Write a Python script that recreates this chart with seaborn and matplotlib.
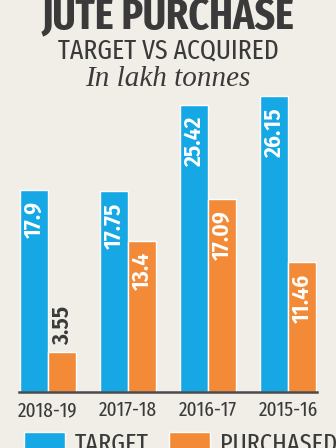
import matplotlib
matplotlib.use("Agg")
import matplotlib.pyplot as plt
import seaborn as sns
import pandas as pd
from matplotlib.patches import Patch

years = ["2018-19", "2017-18", "2016-17", "2015-16"]
target = [17.9, 17.75, 25.42, 26.15]
purchased = [3.55, 13.4, 17.09, 11.46]
series = ["TARGET", "PURCHASED"]
title = "JUTE PURCHASE"
subtitle = "TARGET VS ACQUIRED"
unit = "In lakh tonnes"

BG = "#f1eee8"
BLUE = "#16a7e5"
ORANGE = "#f28a38"
DARK = "#3a3a3a"
COND = ["Fira Sans Condensed", "DejaVu Sans"]
XCOND = ["Fira Sans Extra Condensed", "Fira Sans Condensed", "DejaVu Sans"]
SERIF = ["Liberation Serif", "DejaVu Serif"]

df = pd.DataFrame({
    "year": years * 2,
    "value": target + purchased,
    "series": [series[0]] * 4 + [series[1]] * 4,
})

sns.set_style("white")
plt.rcParams["font.family"] = COND

fig = plt.figure(figsize=(3.36, 4.48), dpi=100, facecolor=BG)
ax = fig.add_axes([0.0571, 0.125, 0.886, 0.757])
ax.set_facecolor(BG)

sns.barplot(data=df, x="year", y="value", hue="series", order=years,
            hue_order=series, palette=[BLUE, ORANGE], width=0.71,
            saturation=1, ax=ax, legend=False)

ax.set_xlim(-0.36, 3.36)
ax.set_ylim(0, 30)
ax.set_xlabel("")
ax.set_ylabel("")
ax.set_yticks([])
for s in ["top", "right", "left"]:
    ax.spines[s].set_visible(False)
ax.spines["bottom"].set_color("#4a4a4a")
ax.spines["bottom"].set_linewidth(1.8)

ax.set_xticks(range(len(years)))
ax.set_xticklabels(years, fontsize=15, color=DARK, family=XCOND)
ax.tick_params(axis="x", which="major", length=0, pad=6)
ax.set_xticks([0.5, 1.5, 2.5], minor=True)
ax.tick_params(axis="x", which="minor", length=13, width=1.5,
               direction="inout", color="#4a4a4a")

# value labels
for container in ax.containers:
    for bar in container:
        h = bar.get_height()
        xc = bar.get_x() + bar.get_width() / 2
        label = f"{h:g}"
        if h < 6:
            ax.text(xc, h + 0.6, label, rotation=90, ha="center", va="bottom",
                    color=DARK, fontsize=17, fontweight="semibold", family=COND)
        else:
            ax.text(xc, h - 1.0, label, rotation=90, ha="center", va="top",
                    color="white", fontsize=17, fontweight="semibold", family=COND)

fig.text(0.5, 0.9375, title, ha="center", va="baseline", fontsize=31,
         fontweight="bold", color=DARK, family=XCOND)
fig.text(0.5, 0.8705, subtitle, ha="center", va="baseline", fontsize=20,
         color=DARK, family=XCOND)
fig.text(0.5, 0.808, unit, ha="center", va="baseline", fontsize=21,
         style="italic", color=DARK, family=SERIF)

handles = [Patch(facecolor=BLUE), Patch(facecolor=ORANGE)]
leg = fig.legend(handles, series, loc="upper left", bbox_to_anchor=(0.072, 0.036),
                 ncol=2, frameon=False, prop={"family": XCOND, "size": 19},
                 handlelength=1.55, handleheight=0.9, columnspacing=0.75,
                 handletextpad=0.38, borderaxespad=0, borderpad=0)
for t in leg.get_texts():
    t.set_color(DARK)

fig.savefig("out.png", dpi=100, facecolor=BG)
